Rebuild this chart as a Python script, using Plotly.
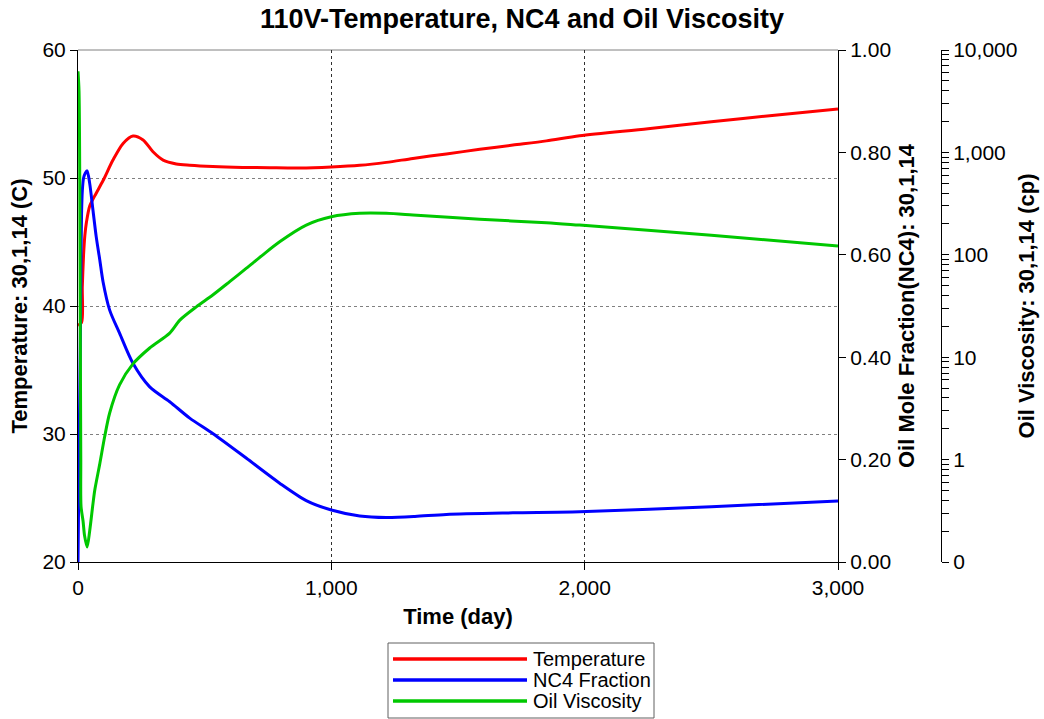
import plotly.graph_objects as go

# ---- series data ----------------------------------------------------------
series_names = ["Temperature", "NC4 Fraction", "Oil Viscosity"]

temp_day = [0, 14, 17, 22, 27, 33, 46, 66, 99, 138, 178, 217, 257, 296, 336,
            388, 441, 532, 650, 757, 875, 1000, 1112, 1217, 1322, 1454, 1586,
            1717, 1849, 1980, 2250, 2500, 2750, 3000]
temp_c = [38.5, 38.7, 41.5, 44.0, 45.5, 46.5, 47.8, 48.6, 49.8, 51.4, 52.7,
          53.28, 52.97, 52.05, 51.4, 51.1, 51.0, 50.9, 50.83, 50.8, 50.78,
          50.86, 50.99, 51.22, 51.53, 51.88, 52.24, 52.57, 52.9, 53.3, 53.85,
          54.4, 54.9, 55.4]

nc4_day = [0, 2, 5, 9, 12, 14, 17, 22, 29, 36, 46, 59, 72, 86, 99, 125, 164,
           217, 283, 362, 441, 532, 665, 796, 901, 1000, 1112, 1217, 1330,
           1454, 1717, 1980, 2500, 3000]
nc4_frac = [0.0, 0.10, 0.25, 0.42, 0.60, 0.68, 0.725, 0.75, 0.76, 0.764, 0.74,
            0.6875, 0.635, 0.59, 0.547, 0.492, 0.447, 0.388, 0.342, 0.313,
            0.281, 0.251, 0.2025, 0.154, 0.12, 0.1016, 0.09, 0.087, 0.089,
            0.093, 0.096, 0.098, 0.108, 0.119]

visc_day = [0, 4, 7, 9, 11, 12, 20, 26, 36, 46, 59, 66, 86, 105, 125, 164, 217,
            283, 362, 402, 467, 532, 600, 665, 730, 796, 901, 1000, 1112, 1217,
            1322, 1586, 1849, 1980, 2500, 3000]
visc_cp = [6200, 4000, 500, 20, 1.0, 0.35, 0.25, 0.18, 0.14, 0.2, 0.37, 0.50,
           0.91, 1.66, 2.85, 5.36, 8.6, 12.3, 17.2, 23, 31, 40.5, 55, 74, 100,
           134, 195, 235, 254, 254, 245, 222, 206, 195, 155, 122]

colors = ["#FF0000", "#0000FF", "#00C800"]

# ---- figure geometry (pixels) ---------------------------------------------
W, H = 1044, 719
ML, MR, MT, MB = 78, 60, 50, 157
PW, PH = W - ML - MR, H - MT - MB
PLOT_RIGHT = 838
VISC_AXIS_X = 941


def px_x(p):
    return (p - ML) / PW


def px_y(p):
    return (H - MB - p) / PH


FONT = "Arial, 'Liberation Sans', sans-serif"

smooth_line = dict(width=3, shape="spline", smoothing=0.8)

fig = go.Figure()
fig.add_trace(go.Scatter(x=nc4_day, y=nc4_frac, yaxis="y2", mode="lines",
                         name=series_names[1], showlegend=False,
                         line=dict(color=colors[1], **smooth_line)))
fig.add_trace(go.Scatter(x=temp_day, y=temp_c, yaxis="y", mode="lines",
                         name=series_names[0], showlegend=False,
                         line=dict(color=colors[0], **smooth_line)))
fig.add_trace(go.Scatter(x=visc_day, y=visc_cp, yaxis="y3", mode="lines",
                         name=series_names[2], showlegend=False,
                         line=dict(color=colors[2], **smooth_line)))

axis_common = dict(showline=True, linecolor="black", linewidth=1,
                   ticks="outside", tickcolor="black", ticklen=7, tickwidth=1,
                   zeroline=False, tickfont=dict(size=21, color="black"))
title_font = dict(size=22, color="black", family=FONT, weight="bold")

fig.update_layout(
    width=W, height=H,
    margin=dict(l=ML, r=MR, t=MT, b=MB, autoexpand=False),
    paper_bgcolor="white", plot_bgcolor="white",
    font=dict(family=FONT, color="black"),
    showlegend=False,
    title=dict(text="110V-Temperature, NC4 and Oil Viscosity",
               font=dict(size=27, color="black", family=FONT, weight="bold"),
               x=0.5, xanchor="center", xref="container",
               y=1 - 19 / H, yanchor="middle", yref="container"),
    xaxis=dict(domain=[0, px_x(PLOT_RIGHT)], range=[0, 3000],
               tickvals=[0, 1000, 2000, 3000], tickformat=",",
               showgrid=True, gridcolor="#303030", griddash="dot", gridwidth=1,
               title=dict(text="Time (day)", font=title_font, standoff=10),
               **axis_common),
    yaxis=dict(range=[20, 60], tickvals=[20, 30, 40, 50, 60],
               showgrid=True, gridcolor="#808080", griddash="dot", gridwidth=1,
               title=dict(text="Temperature: 30,1,14 (C)", font=title_font,
                          standoff=8),
               **axis_common),
    yaxis2=dict(overlaying="y", side="right", anchor="x", range=[0, 1],
                tickvals=[0, 0.2, 0.4, 0.6, 0.8, 1.0], tickformat=".2f",
                showgrid=False,
                title=dict(text="Oil Mole Fraction(NC4): 30,1,14",
                           font=title_font, standoff=8),
                **axis_common),
    yaxis3=dict(overlaying="y", side="right", anchor="free",
                position=px_x(VISC_AXIS_X), type="log", range=[-1, 4],
                tickmode="linear", tick0=0, dtick=1, tickformat=",.0f",
                showgrid=False,
                minor=dict(ticks="outside", ticklen=7, tickcolor="black",
                           tickwidth=1, dtick="D1", showgrid=False),
                title=dict(text="Oil Viscosity: 30,1,14 (cp)",
                           font=title_font, standoff=2),
                **axis_common),
)

# plot frame top edge
fig.add_shape(type="line", xref="paper", yref="paper",
              x0=0, x1=px_x(PLOT_RIGHT), y0=1, y1=1,
              line=dict(color="#808080", width=1), layer="below")

# legend box drawn below the x-axis title
fig.add_shape(type="rect", xref="paper", yref="paper",
              x0=px_x(388), x1=px_x(654), y0=px_y(718), y1=px_y(643),
              line=dict(color="#606060", width=1), fillcolor="white")
legend_rows = [659, 680, 701]
for name, color, row in zip(series_names, colors, legend_rows):
    fig.add_shape(type="line", xref="paper", yref="paper",
                  x0=px_x(393), x1=px_x(527), y0=px_y(row), y1=px_y(row),
                  line=dict(color=color, width=3.5))
    fig.add_annotation(text=name, xref="paper", yref="paper",
                       x=px_x(531), y=px_y(row), xanchor="left",
                       yanchor="middle", showarrow=False,
                       font=dict(size=20, color="black", family=FONT))

fig.write_html("out.html")
